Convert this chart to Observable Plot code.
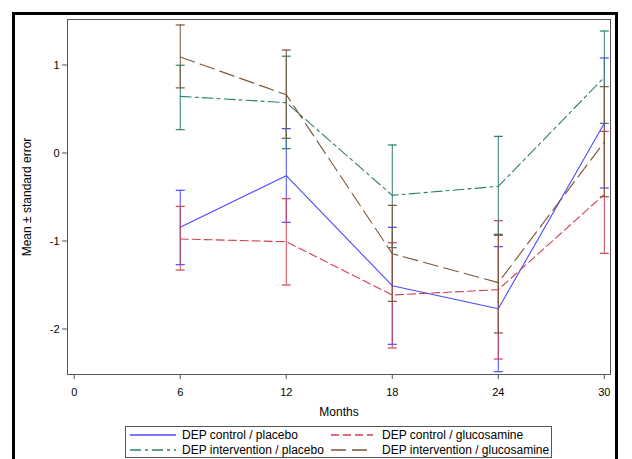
<!DOCTYPE html>
<html>
<head>
<meta charset="utf-8">
<script src="https://cdn.jsdelivr.net/npm/d3@7"></script>
<script src="https://cdn.jsdelivr.net/npm/@observablehq/plot@0.6"></script>
<style>
  html, body { margin: 0; padding: 0; background: #fff; }
  body { font-family: "Liberation Sans", Arial, sans-serif; }
  #wrap { position: relative; width: 632px; height: 459px; overflow: hidden; }
  #border { position: absolute; left: 12px; top: 12px; width: 600px; height: 470px;
            border: 3px solid #000; border-bottom: none; pointer-events: none; }
  #chart svg { display: block; }
  #legend { margin-left: 125px; margin-top: 2px; width: 425px; height: 30px;
            border: 1px solid #555; box-sizing: content-box; font-size: 12px; color: #000; }
  .row { display: flex; height: 15px; align-items: center; }
  .item { display: flex; align-items: center; }
  .item svg { display: block; }
</style>
</head>
<body>
<div id="wrap">
  <div id="chart"></div>
  <div id="legend"></div>
  <div id="border"></div>
</div>
<script>
// ---- data ----
const months = [6, 12, 18, 24, 30];
const xTicks = [0, 6, 12, 18, 24, 30];
const yTicks = [-2, -1, 0, 1];
const seriesNames = [
  "DEP control / placebo",
  "DEP control / glucosamine",
  "DEP intervention / placebo",
  "DEP intervention / glucosamine"
];
const seriesColors = ["#4a4aff", "#d04052", "#2b7f72", "#7c5637"];
const seriesDash = [null, "8,4", "11,4,3,4", "15,6"];

const ctrlPlaceboMean = [-0.845, -0.258, -1.508, -1.769, 0.337];
const ctrlPlaceboLow  = [-1.269, -0.788, -2.174, -2.485, -0.398];
const ctrlPlaceboHigh = [-0.424, 0.277, -0.845, -1.064, 1.080];

const ctrlGlucoMean = [-0.977, -1.008, -1.614, -1.553, -0.470];
const ctrlGlucoLow  = [-1.330, -1.500, -2.216, -2.341, -1.140];
const ctrlGlucoHigh = [-0.606, -0.519, -1.019, -0.769, 0.246];

const intPlaceboMean = [0.644, 0.572, -0.481, -0.379, 0.860];
const intPlaceboLow  = [0.265, 0.049, -1.076, -0.936, 0.337];
const intPlaceboHigh = [0.997, 1.100, 0.091, 0.189, 1.386];

const intGlucoMean = [1.090, 0.663, -1.144, -1.473, 0.125];
const intGlucoLow  = [0.740, 0.167, -1.686, -2.045, -0.497];
const intGlucoHigh = [1.455, 1.170, -0.595, -0.924, 0.754];

const means = [ctrlPlaceboMean, ctrlGlucoMean, intPlaceboMean, intGlucoMean];
const lows  = [ctrlPlaceboLow, ctrlGlucoLow, intPlaceboLow, intGlucoLow];
const highs = [ctrlPlaceboHigh, ctrlGlucoHigh, intPlaceboHigh, intGlucoHigh];

// ---- build table ----
const series = seriesNames.map((name, i) => months.map((m, j) => ({
  series: name, month: m, mean: means[i][j], low: lows[i][j], high: highs[i][j]
})));

const cap = { draw(ctx) { ctx.moveTo(-4.5, 0); ctx.lineTo(4.5, 0); } };

const marks = [Plot.frame({stroke: "#555", strokeWidth: 1})];
series.forEach((rows, i) => {
  const c = seriesColors[i];
  marks.push(Plot.ruleX(rows, {x: "month", y1: "low", y2: "high", stroke: c, strokeWidth: 1}));
  marks.push(Plot.dot(rows, {x: "month", y: "low", symbol: cap, fill: "none", stroke: c, strokeWidth: 1.2}));
  marks.push(Plot.dot(rows, {x: "month", y: "high", symbol: cap, fill: "none", stroke: c, strokeWidth: 1.2}));
});
series.forEach((rows, i) => {
  marks.push(Plot.line(rows, {x: "month", y: "mean", stroke: seriesColors[i], strokeWidth: 1.1,
    strokeDasharray: seriesDash[i] || undefined}));
});
marks.push(Plot.axisX({ticks: xTicks, tickSize: 5, tickPadding: 9, tickFormat: d => String(d),
  fontSize: 11, label: null, stroke: "#555"}));
marks.push(Plot.axisY({ticks: yTicks, tickSize: 5, tickPadding: 3, tickFormat: d => String(d),
  fontSize: 11, label: null, stroke: "#555"}));
marks.push(Plot.text(["Months"], {frameAnchor: "bottom", dy: 41, fontSize: 12, fill: "#000"}));
marks.push(Plot.text(["Mean \u00b1 standard error"], {frameAnchor: "left", textAnchor: "middle",
  rotate: -90, dx: -40, fontSize: 12, fill: "#000"}));

const chart = Plot.plot({
  width: 632,
  height: 424,
  marginLeft: 67,
  marginRight: 22,
  marginTop: 19,
  marginBottom: 50,
  x: {domain: [-0.38, 30.35]},
  y: {domain: [-2.517, 1.517]},
  style: {fontFamily: "'Liberation Sans', Arial, sans-serif", color: "#000", background: "#fff"},
  marks
});
document.getElementById("chart").appendChild(chart);

// ---- legend ----
const legend = document.getElementById("legend");
const order = [[0, 1], [2, 3]];
const colLeft = [4, 205];
const sampleW = [46, 42];
const gap = [6, 9];
order.forEach(pair => {
  const row = document.createElement("div");
  row.className = "row";
  pair.forEach((si, k) => {
    const item = document.createElement("div");
    item.className = "item";
    item.style.position = "relative";
    item.style.marginLeft = (k === 0 ? colLeft[0] : 0) + "px";
    if (k === 0) item.style.width = (colLeft[1] - colLeft[0]) + "px";
    const ns = "http://www.w3.org/2000/svg";
    const svg = document.createElementNS(ns, "svg");
    svg.setAttribute("width", sampleW[k]);
    svg.setAttribute("height", 10);
    const ln = document.createElementNS(ns, "line");
    ln.setAttribute("x1", 0); ln.setAttribute("x2", sampleW[k]);
    ln.setAttribute("y1", 5); ln.setAttribute("y2", 5);
    ln.setAttribute("stroke", seriesColors[si]);
    ln.setAttribute("stroke-width", 1.5);
    if (seriesDash[si]) ln.setAttribute("stroke-dasharray", seriesDash[si]);
    svg.appendChild(ln);
    item.appendChild(svg);
    const t = document.createElement("span");
    t.textContent = seriesNames[si];
    t.style.marginLeft = gap[k] + "px";
    item.appendChild(t);
    row.appendChild(item);
  });
  legend.appendChild(row);
});
</script>
</body>
</html>
